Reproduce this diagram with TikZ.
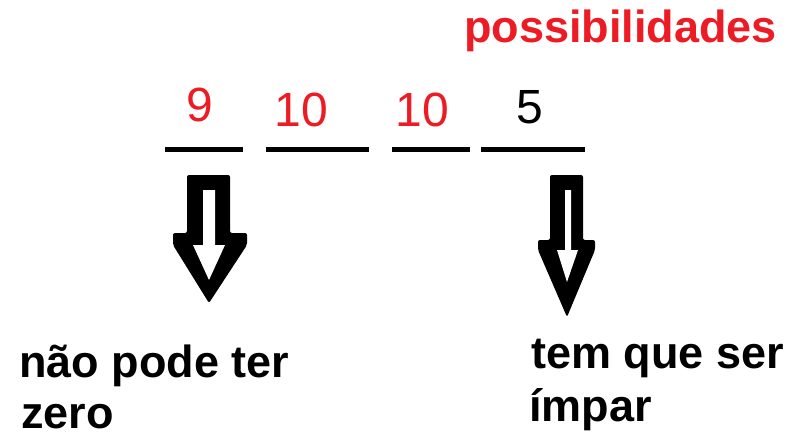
\documentclass[tikz,border=0pt]{standalone}
\usepackage{fontspec}
\setmainfont{Liberation Sans}
\definecolor{paintred}{RGB}{237,28,36}
\begin{document}
\begin{tikzpicture}[x=1pt,y=-1pt,
  lbl/.style={inner sep=0pt, anchor=base west, font=\fontsize{45}{54}\selectfont\bfseries},
  num/.style={inner sep=0pt, anchor=base, font=\fontsize{48}{56}\selectfont},
  slot/.style={line width=4.5pt},
  arrowbody/.style={fill=black, rounded corners=2pt},
  arrowhole/.style={fill=white}]
\useasboundingbox[fill=white] (0,0) rectangle (792,434);

% heading
\node[lbl, text=paintred] (title) at (464,42) {possibilidades};

% digits above the slots
\node[num, text=paintred] (d1) at (199.5,121) {9};
\node[num, text=paintred] (d2) at (301.5,126) {10};
\node[num, text=paintred] (d3) at (422.5,126) {10};
\node[num, text=black]    (d4) at (530,123) {5};

% slots
\draw[slot] (165,149.5) -- (243,149.5);
\draw[slot] (266,149.5) -- (369,149.5);
\draw[slot] (392,149.5) -- (470,149.5);
\draw[slot] (481,149.5) -- (585,149.5);

% hollow arrow under the first slot
\fill[arrowbody] (187,175) -- (187,233) -- (173,233) -- (173,245) -- (209,303)
  -- (247,245) -- (247,233) -- (230,233) -- (230,175) -- cycle;
\fill[arrowhole] (203,190) -- (203,245) -- (193,245) -- (209,280)
  -- (225,245) -- (215,245) -- (215,190) -- cycle;

% hollow arrow under the last slot
\fill[arrowbody] (550,175) -- (550,240) -- (538,240) -- (538,250) -- (567,317)
  -- (595,250) -- (595,240) -- (583,240) -- (583,175) -- cycle;
\fill[arrowhole] (565,190) -- (565,250) -- (557,250) -- (567,282)
  -- (578,250) -- (571,250) -- (571,190) -- cycle;

% notes
\node[lbl] (left1) at (19,377) {não pode ter};
\node[lbl] (left2) at (21,428) {zero};
\node[lbl] (right1) at (531,368) {tem que ser};
\node[lbl] (right2) at (529,421) {ímpar};
\end{tikzpicture}
\end{document}
